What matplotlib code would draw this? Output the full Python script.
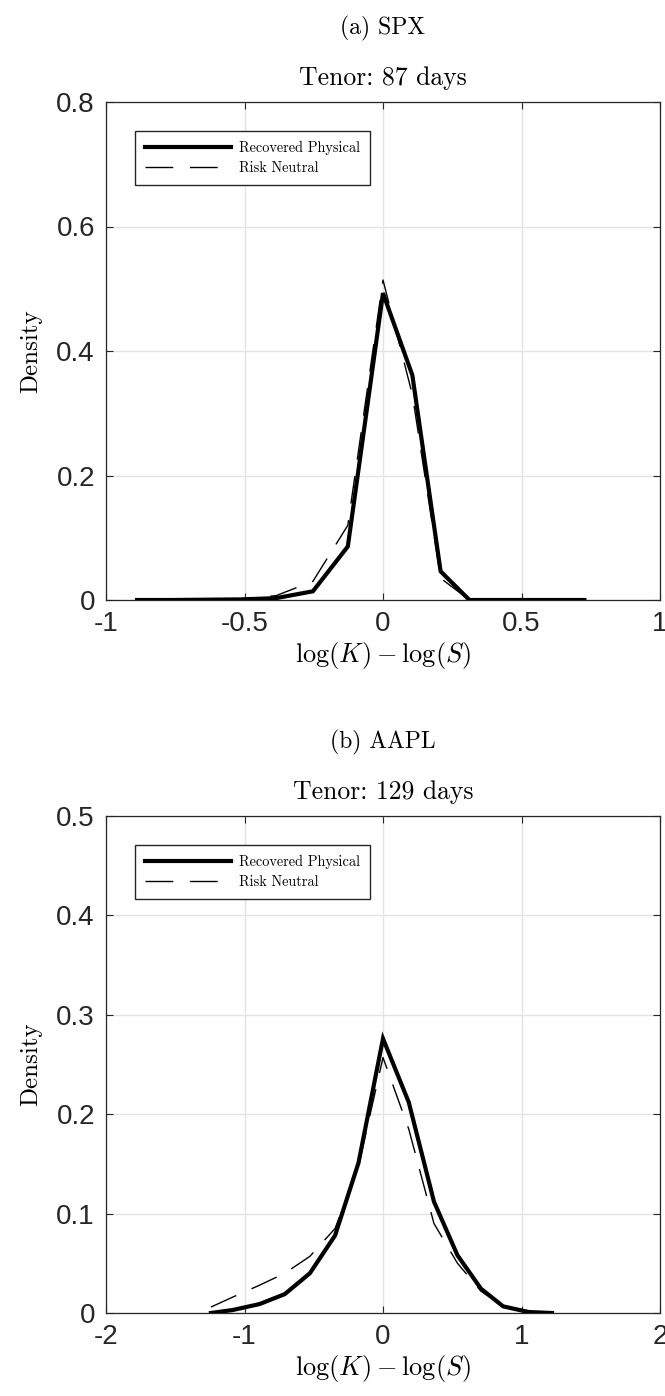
"""Recovered physical vs risk neutral densities (SPX, AAPL)."""

import matplotlib

matplotlib.use("Agg")
import matplotlib.pyplot as plt

plt.rcParams["mathtext.fontset"] = "cm"
plt.rcParams["font.family"] = ["Liberation Sans", "DejaVu Sans"]

# (a) SPX, tenor 87 days
x_spx = [-0.888, -0.762, -0.636, -0.51, -0.386, -0.253, -0.127, 0.0,
         0.106, 0.208, 0.312, 0.416, 0.52, 0.624, 0.727]
phys_spx = [0.0, 0.0, 0.0005, 0.001, 0.003, 0.014, 0.086, 0.493,
            0.361, 0.046, 0.0, 0.0, 0.0, 0.0, 0.0]
rn_spx = [0.0, 0.0, 0.001, 0.002, 0.007, 0.03, 0.12, 0.514,
          0.33, 0.035, 0.0, 0.0, 0.0, 0.0, 0.0]

# (b) AAPL, tenor 129 days
x_aapl = [-1.242, -1.085, -0.891, -0.709, -0.528, -0.346, -0.177, 0.0,
          0.186, 0.368, 0.538, 0.707, 0.867, 1.05, 1.22]
phys_aapl = [0.0, 0.003, 0.009, 0.019, 0.040, 0.078, 0.151, 0.276,
             0.212, 0.112, 0.058, 0.0245, 0.0067, 0.001, 0.0]
rn_aapl = [0.006, 0.016, 0.028, 0.040, 0.057, 0.085, 0.148, 0.257,
           0.185, 0.09, 0.05, 0.022, 0.007, 0.002, 0.0]

panels = [
    dict(tag="(a) SPX", tenor="Tenor: 87 days",
         x=x_spx, phys=phys_spx, rn=rn_spx,
         xticks=[-1, -0.5, 0, 0.5, 1], xlabels=["-1", "-0.5", "0", "0.5", "1"],
         yticks=[0, 0.2, 0.4, 0.6, 0.8], ylabels=["0", "0.2", "0.4", "0.6", "0.8"],
         top=102, bottom=600),
    dict(tag="(b) AAPL", tenor="Tenor: 129 days",
         x=x_aapl, phys=phys_aapl, rn=rn_aapl,
         xticks=[-2, -1, 0, 1, 2], xlabels=["-2", "-1", "0", "1", "2"],
         yticks=[0, 0.1, 0.2, 0.3, 0.4, 0.5],
         ylabels=["0", "0.1", "0.2", "0.3", "0.4", "0.5"],
         top=816, bottom=1313),
]

W, H = 665, 1396
fig = plt.figure(figsize=(W / 100, H / 100), dpi=100)
edge = "#262626"
serif = "cmr10"

for p in panels:
    left, right = 106, 660
    ax = fig.add_axes([left / W, 1 - p["bottom"] / H,
                       (right - left) / W, (p["bottom"] - p["top"]) / H])
    ax.plot(p["x"], p["phys"], color="black", lw=3.0, solid_joinstyle="miter",
            label="Recovered Physical", zorder=3)
    ax.plot(p["x"], p["rn"], color="black", lw=1.0, dashes=[20, 12],
            label="Risk Neutral", zorder=4)

    ax.set_xlim(p["xticks"][0], p["xticks"][-1])
    ax.set_ylim(p["yticks"][0], p["yticks"][-1])
    ax.set_xticks(p["xticks"])
    ax.set_xticklabels(p["xlabels"])
    ax.set_yticks(p["yticks"])
    ax.set_yticklabels(p["ylabels"])
    ax.grid(True, color="#e3e3e3", lw=1.0)
    ax.set_axisbelow(True)
    ax.tick_params(direction="in", length=5, width=0.8, colors=edge,
                   labelsize=20, labelcolor=edge, top=True, right=True, pad=8)
    for s in ax.spines.values():
        s.set_color(edge)
        s.set_linewidth(0.9)

    ax.set_xlabel(r"$\log(K) - \log(S)$", fontsize=19, labelpad=2)
    ax.set_ylabel("Density", fontsize=18, fontname=serif, labelpad=10)

    leg = ax.legend(loc="upper left", bbox_to_anchor=(0.052, 0.942),
                    borderaxespad=0, prop={"family": serif, "size": 10.3},
                    handlelength=6.0, fancybox=False, framealpha=1,
                    edgecolor=edge, borderpad=0.7, labelspacing=0.45,
                    handletextpad=0.6)
    leg.get_frame().set_linewidth(1.0)

    fig.text(0.5 * (left + right) / W, 1 - (p["top"] - 24) / H, p["tenor"],
             ha="center", va="center", fontsize=18.5, fontname=serif)
    fig.text(0.5 * (left + right) / W, 1 - (p["top"] - 74) / H, p["tag"],
             ha="center", va="center", fontsize=17, fontname=serif)

fig.savefig("out.png", dpi=100)
